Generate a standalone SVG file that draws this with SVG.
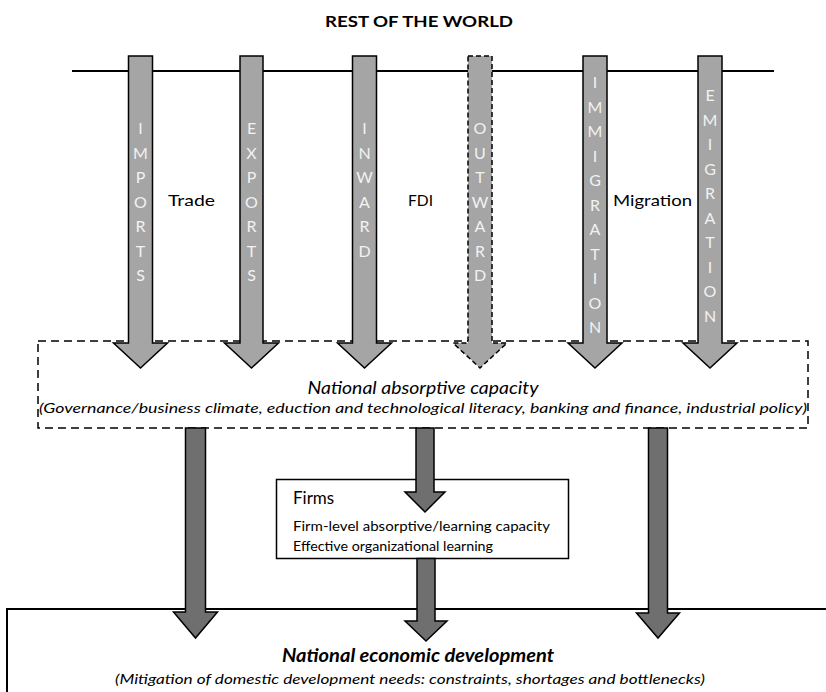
<svg xmlns="http://www.w3.org/2000/svg" width="826" height="692" viewBox="0 0 826 692">
<style>
text{font-family:Lato,"Liberation Sans",sans-serif;fill:#000}
.up{fill:#a5a5a5;stroke:#000;stroke-width:1.5;stroke-linejoin:miter}
.upd{fill:#a5a5a5;stroke:#000;stroke-width:1.5;stroke-dasharray:5,3}
.dn{fill:#6f6f6f;stroke:#000;stroke-width:1.5}
.vl{font-size:16px;fill:#f2f2f2;text-anchor:middle}
.lab{font-size:16px}
.it{font-style:italic}
</style>
<rect width="826" height="692" fill="#fff"/>
<g id="title"><text x="419" y="27" font-size="15" font-weight="bold" text-anchor="middle" textLength="188" lengthAdjust="spacingAndGlyphs">REST OF THE WORLD</text></g>
<line x1="72" y1="71" x2="774" y2="71" stroke="#000" stroke-width="2"/>
<g id="absorptive">
<rect x="38" y="341" width="770" height="87" fill="#fff" stroke="#000" stroke-width="1.5" stroke-dasharray="8,5"/>
<text class="it" x="423" y="394" font-size="17" text-anchor="middle" textLength="231" lengthAdjust="spacingAndGlyphs">National absorptive capacity</text>
<text class="it" x="423" y="413" font-size="14" text-anchor="middle" textLength="768" lengthAdjust="spacingAndGlyphs">(Governance/business climate, eduction and technological literacy, banking and finance, industrial policy)</text>
</g>
<g id="development">
<rect x="7" y="609" width="830" height="100" fill="#fff" stroke="#000" stroke-width="2"/>
<text x="418" y="662" font-size="18" font-weight="bold" font-style="italic" text-anchor="middle" textLength="272" lengthAdjust="spacingAndGlyphs">National economic development</text>
<text class="it" x="410" y="684" font-size="14" text-anchor="middle" textLength="590" lengthAdjust="spacingAndGlyphs">(Mitigation of domestic development needs: constraints, shortages and bottlenecks)</text>
</g>
<g id="firms">
<rect x="276.5" y="479.5" width="292" height="79" fill="#fff" stroke="#000" stroke-width="1.5"/>
<text x="293" y="504" font-size="17">Firms</text>
<text x="293" y="531" font-size="13" textLength="257" lengthAdjust="spacingAndGlyphs">Firm-level absorptive/learning capacity</text>
<text x="293" y="551" font-size="13" textLength="200" lengthAdjust="spacingAndGlyphs">Effective organizational learning</text>
</g>
<g id="labels">
<text class="lab" x="168" y="206" textLength="47" lengthAdjust="spacingAndGlyphs">Trade</text>
<text class="lab" x="408" y="206" textLength="25" lengthAdjust="spacingAndGlyphs">FDI</text>
<text class="lab" x="613" y="206" textLength="79" lengthAdjust="spacingAndGlyphs">Migration</text>
</g>
<g id="connectors">
<g id="imports"><path class="up" d="M128.5,56 H152.5 V343 H167.5 L140.5,368 L113.5,343 H128.5 Z"/>
<text class="vl" x="140.5" y="134"><tspan x="140.5">I</tspan><tspan x="140.5" dy="24.5">M</tspan><tspan x="140.5" dy="24.5">P</tspan><tspan x="140.5" dy="24.5">O</tspan><tspan x="140.5" dy="24.5">R</tspan><tspan x="140.5" dy="24.5">T</tspan><tspan x="140.5" dy="24.5">S</tspan></text></g>
<g id="exports"><path class="up" d="M240,56 H263 V343 H278.5 L251.5,368 L224.5,343 H240 Z"/>
<text class="vl" x="251.5" y="134"><tspan x="251.5">E</tspan><tspan x="251.5" dy="24.5">X</tspan><tspan x="251.5" dy="24.5">P</tspan><tspan x="251.5" dy="24.5">O</tspan><tspan x="251.5" dy="24.5">R</tspan><tspan x="251.5" dy="24.5">T</tspan><tspan x="251.5" dy="24.5">S</tspan></text></g>
<g id="inward"><path class="up" d="M352.5,56 H376.5 V343 H391.5 L364.5,368 L337.5,343 H352.5 Z"/>
<text class="vl" x="364.5" y="134"><tspan x="364.5">I</tspan><tspan x="364.5" dy="24.5">N</tspan><tspan x="364.5" dy="24.5">W</tspan><tspan x="364.5" dy="24.5">A</tspan><tspan x="364.5" dy="24.5">R</tspan><tspan x="364.5" dy="24.5">D</tspan></text></g>
<g id="outward"><path class="upd" d="M468,56 H492 V343 H507 L480,368 L453,343 H468 Z"/>
<text class="vl" x="480" y="134"><tspan x="480">O</tspan><tspan x="480" dy="24.5">U</tspan><tspan x="480" dy="24.5">T</tspan><tspan x="480" dy="24.5">W</tspan><tspan x="480" dy="24.5">A</tspan><tspan x="480" dy="24.5">R</tspan><tspan x="480" dy="24.5">D</tspan></text></g>
<g id="immigration"><path class="up" d="M583,56 H607 V343 H622 L595,368 L568,343 H583 Z"/>
<text class="vl" x="595" y="88"><tspan x="595">I</tspan><tspan x="595" dy="24.5">M</tspan><tspan x="595" dy="24.5">M</tspan><tspan x="595" dy="24.5">I</tspan><tspan x="595" dy="24.5">G</tspan><tspan x="595" dy="24.5">R</tspan><tspan x="595" dy="24.5">A</tspan><tspan x="595" dy="24.5">T</tspan><tspan x="595" dy="24.5">I</tspan><tspan x="595" dy="24.5">O</tspan><tspan x="595" dy="24.5">N</tspan></text></g>
<g id="emigration"><path class="up" d="M698,56 H722 V343 H737 L710,368 L683,343 H698 Z"/>
<text class="vl" x="710" y="101"><tspan x="710">E</tspan><tspan x="710" dy="24.5">M</tspan><tspan x="710" dy="24.5">I</tspan><tspan x="710" dy="24.5">G</tspan><tspan x="710" dy="24.5">R</tspan><tspan x="710" dy="24.5">A</tspan><tspan x="710" dy="24.5">T</tspan><tspan x="710" dy="24.5">I</tspan><tspan x="710" dy="24.5">O</tspan><tspan x="710" dy="24.5">N</tspan></text></g>
<path id="down-left" class="dn" d="M185.5,428 H205.5 V612 H217.5 L195.5,638 L173.5,612 H185.5 Z"/>
<path id="down-firms" class="dn" d="M416,428 H434 V492 H445 L425,512 L405,492 H416 Z"/>
<path id="down-mid" class="dn" d="M417,558.5 H435 V621 H447 L426,641 L405,621 H417 Z"/>
<path id="down-right" class="dn" d="M648.5,428 H667.5 V613 H679.5 L658,638 L636.5,613 H648.5 Z"/>
</g>
</svg>
